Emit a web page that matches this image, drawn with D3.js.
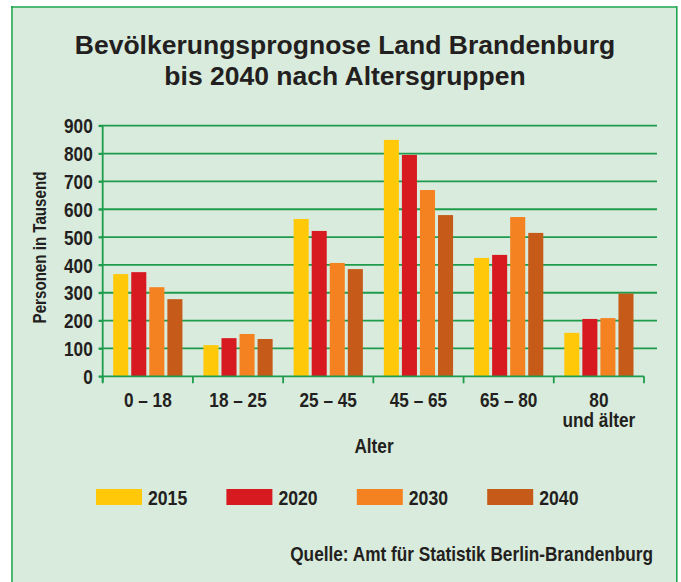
<!DOCTYPE html>
<html>
<head>
<meta charset="utf-8">
<script src="https://cdn.jsdelivr.net/npm/d3@7"></script>
<style>
  body { margin: 0; background: #fff; }
  text { fill: #231f20; font-weight: bold; }
</style>
</head>
<body>
<div id="chart"></div>
<script>
// data (Personen in Tausend)
const ageGroups = ["0 – 18", "18 – 25", "25 – 45", "45 – 65", "65 – 80", "80\nund älter"];
const years = ["2015", "2020", "2030", "2040"];
const v2015 = [367, 112, 565, 849, 425, 156];
const v2020 = [374, 137, 522, 795, 436, 206];
const v2030 = [320, 152, 407, 669, 572, 209];
const v2040 = [277, 134, 385, 579, 515, 297];
const yTicks = [0, 100, 200, 300, 400, 500, 600, 700, 800, 900];
const colors = ["#ffc90a", "#d71920", "#f58220", "#c65a18"];

const series = [v2015, v2020, v2030, v2040];

const W = 681, H = 582;
const font = "'Liberation Sans', Arial, sans-serif";

// no narrow font here, so squeeze the glyphs
function condense(sel, k) {
    sel.each(function() {
        const len = this.getComputedTextLength();
        d3.select(this).attr("textLength", len * k).attr("lengthAdjust", "spacingAndGlyphs");
    });
}

const svg = d3.select("#chart").append("svg")
    .attr("width", W).attr("height", H)
    .style("font-family", font);

// frame
svg.append("rect").attr("x", 12).attr("y", 7).attr("width", 665).attr("height", H - 7)
    .attr("fill", "#d9ebdc");
svg.append("line").attr("x1", 12).attr("x2", 12).attr("y1", 6).attr("y2", H)
    .attr("stroke", "#4cb86e").attr("stroke-width", 2);
svg.append("line").attr("x1", 11).attr("x2", 677).attr("y1", 7).attr("y2", 7)
    .attr("stroke", "#1fa64f").attr("stroke-width", 1.6);
svg.append("line").attr("x1", 676.8).attr("x2", 676.8).attr("y1", 6).attr("y2", H)
    .attr("stroke", "#1fa64f").attr("stroke-width", 1.6);

// title
const title = svg.append("text")
    .attr("text-anchor", "middle")
    .style("font-size", "26.5px");
title.append("tspan").attr("x", 345).attr("y", 54).text("Bevölkerungsprognose Land Brandenburg");
title.append("tspan").attr("x", 345).attr("y", 85).text("bis 2040 nach Altersgruppen");

// scales
const x0 = 102.7, x1 = 644, gridEnd = 657;
const x = d3.scaleBand().domain(ageGroups).range([x0, x1]);
const xInner = d3.scaleBand().domain(years)
    .range([10.5, x.bandwidth() - 10.5]).paddingInner(0.1667);
const y = d3.scaleLinear().domain([0, 900]).range([376.3, 125.7]);

const green = "#1e9c4c";

// gridlines
svg.append("g").selectAll("line")
    .data(yTicks.filter(d => d > 0))
    .enter().append("line")
    .attr("x1", x0 - 4).attr("x2", gridEnd)
    .attr("y1", d => y(d)).attr("y2", d => y(d))
    .attr("stroke", green).attr("stroke-width", 1.8);

// bars
const groups = svg.append("g").selectAll("g")
    .data(ageGroups)
    .enter().append("g")
    .attr("transform", d => "translate(" + x(d) + ",0)");
groups.selectAll("rect")
    .data((d, gi) => years.map((yr, si) => ({ year: yr, value: series[si][gi], color: colors[si] })))
    .enter().append("rect")
    .attr("x", d => xInner(d.year))
    .attr("width", xInner.bandwidth())
    .attr("y", d => y(d.value))
    .attr("height", d => y(0) - y(d.value))
    .attr("fill", d => d.color);

// y axis
const yAxis = svg.append("g")
    .attr("transform", "translate(" + x0 + ",0)")
    .call(d3.axisLeft(y).tickValues(yTicks).tickSize(4).tickPadding(6));
yAxis.select(".domain").attr("stroke", green).attr("stroke-width", 1.8)
    .attr("d", "M0," + (y(900) - 0.5) + "V" + (y(0) + 6));
yAxis.selectAll(".tick line").attr("stroke", green).attr("stroke-width", 1.8);
yAxis.selectAll(".tick text")
    .style("font-family", font).style("font-size", "20px")
    .attr("fill", "#231f20").attr("dy", "0.36em")
    .call(condense, 0.86);

// x axis line + ticks at band edges
svg.append("line").attr("x1", x0 - 4).attr("x2", x1)
    .attr("y1", y(0)).attr("y2", y(0))
    .attr("stroke", green).attr("stroke-width", 1.8);
svg.append("g").selectAll("line")
    .data(ageGroups.map(d => x(d)).concat([x1]))
    .enter().append("line")
    .attr("x1", d => d).attr("x2", d => d)
    .attr("y1", y(0)).attr("y2", y(0) + 7)
    .attr("stroke", green).attr("stroke-width", 1.8);

// x labels
const xl = svg.append("g").selectAll("text")
    .data(ageGroups)
    .enter().append("text")
    .attr("text-anchor", "middle")
    .style("font-size", "20px");
xl.selectAll("tspan")
    .data(d => d.split("\n").map(s => ({ s: s, c: d })))
    .enter().append("tspan")
    .attr("x", d => x(d.c) + x.bandwidth() / 2)
    .attr("y", (d, i) => 406.5 + i * 20)
    .text(d => d.s)
    .call(condense, 0.86);

// axis titles
svg.append("text")
    .attr("text-anchor", "middle")
    .attr("x", 374).attr("y", 453)
    .style("font-size", "20px")
    .text("Alter")
    .call(condense, 0.86);
svg.append("text")
    .attr("text-anchor", "middle")
    .attr("transform", "translate(45.5,247.5) rotate(-90)")
    .style("font-size", "18px")
    .text("Personen in Tausend")
    .call(condense, 0.84);

// legend
const leg = svg.append("g").selectAll("g")
    .data(years)
    .enter().append("g")
    .attr("transform", (d, i) => "translate(" + (96 + i * 130.4) + ",489)");
leg.append("rect").attr("width", 46).attr("height", 16)
    .attr("fill", (d, i) => colors[i]);
leg.append("text").attr("x", 52).attr("y", 16)
    .style("font-size", "21px")
    .text(d => d)
    .call(condense, 0.84);

// source (squeezed with a transform so its box stays inside the frame)
svg.append("g")
    .attr("transform", "translate(653,561) scale(0.84,1)")
    .append("text")
    .attr("text-anchor", "end")
    .style("font-size", "20.5px")
    .text("Quelle: Amt für Statistik Berlin-Brandenburg");
</script>
</body>
</html>
